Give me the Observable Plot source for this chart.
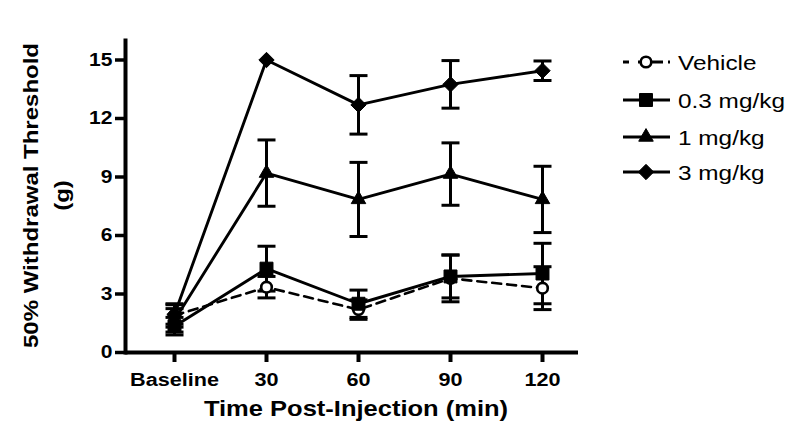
<!DOCTYPE html>
<html><head><meta charset="utf-8">
<script src="https://cdn.jsdelivr.net/npm/d3@7"></script>
<script src="https://cdn.jsdelivr.net/npm/@observablehq/plot@0.6"></script>
<style>
body{margin:0;background:#fff;}
#wrap{position:relative;width:800px;height:441px;font-family:"Liberation Sans",Arial,Helvetica,sans-serif;color:#000;}
#wrap svg{font-family:"Liberation Sans",Arial,Helvetica,sans-serif;}
#legend{position:absolute;left:0;top:0;pointer-events:none;}
</style></head><body><div id="wrap"></div>
<script>
const categories = ["Baseline", "30", "60", "90", "120"];
const seriesNames = ["Vehicle", "0.3 mg/kg", "1 mg/kg", "3 mg/kg"];
const vehicleMean = [1.9, 3.35, 2.2, 3.8, 3.3];
const vehicleSem  = [0.6, 0.55, 0.5, 1.2, 1.1];
const dose03Mean  = [1.35, 4.3, 2.5, 3.9, 4.05];
const dose03Sem   = [0.45, 1.15, 0.7, 1.1, 1.55];
const dose1Mean   = [1.65, 9.2, 7.85, 9.15, 7.85];
const dose1Sem    = [0.6, 1.7, 1.9, 1.6, 1.7];
const dose3Mean   = [1.95, 15.0, 12.7, 13.75, 14.45];
const dose3Sem    = [0.5, 0.0, 1.5, 1.22, 0.5];
const yTicks = [0, 3, 6, 9, 12, 15];
const xTitle = "Time Post-Injection (min)";
const yTitle = "50% Withdrawal Threshold\n(g)";

const means = [vehicleMean, dose03Mean, dose1Mean, dose3Mean];
const sems = [vehicleSem, dose03Sem, dose1Sem, dose3Sem];
const rows = [];
seriesNames.forEach((s, si) => categories.forEach((c, i) =>
  rows.push({series: s, time: c, mean: means[si][i], sem: sems[si][i]})));
const errRows = rows.filter(d => d.sem > 0);

const capSymbol = {draw(ctx, size) { const w = Math.sqrt(size / Math.PI); ctx.moveTo(-w, 0); ctx.lineTo(w, 0); }};
const symbolFor = {"Vehicle": d3.symbolCircle, "0.3 mg/kg": d3.symbolSquare, "1 mg/kg": d3.symbolTriangle, "3 mg/kg": d3.symbolDiamond2};
const rFor = {"Vehicle": 5.3, "0.3 mg/kg": 7.3, "1 mg/kg": 5.4, "3 mg/kg": 6.9};

const bySeries = s => rows.filter(d => d.series === s);

const svg = Plot.plot({
  width: 800, height: 441,
  marginLeft: 125, marginRight: 222, marginTop: 40, marginBottom: 89,
  style: {background: "#fff", color: "#000", overflow: "visible"},
  x: {type: "point", domain: categories, padding: 0.4355, align: 0.58},
  y: {domain: [0, 16]},
  marks: [
    Plot.axisY(yTicks, {tickSize: 10, tickPadding: 3, strokeWidth: 3.5, fontSize: 18, fontWeight: "bold", label: null}),
    Plot.axisX({tickSize: 10, tickPadding: 10, strokeWidth: 4, fontSize: 18.5, fontWeight: "bold", label: null}),
    Plot.frame({anchor: "left", strokeWidth: 4}),
    Plot.ruleY([0], {strokeWidth: 4}),
    Plot.ruleX(errRows, {x: "time", y1: d => d.mean - d.sem, y2: d => d.mean + d.sem, strokeWidth: 3}),
    Plot.dot(errRows, {x: "time", y: d => d.mean + d.sem, symbol: capSymbol, r: 9, stroke: "#000", strokeWidth: 3, fill: "none"}),
    Plot.dot(errRows, {x: "time", y: d => d.mean - d.sem, symbol: capSymbol, r: 9, stroke: "#000", strokeWidth: 3, fill: "none"}),
    Plot.line(bySeries("Vehicle"), {x: "time", y: "mean", stroke: "#000", strokeWidth: 2.6, strokeDasharray: "9,6"}),
    Plot.line(rows.filter(d => d.series !== "Vehicle"), {x: "time", y: "mean", z: "series", stroke: "#000", strokeWidth: 2.9}),
    Plot.dot(bySeries("Vehicle"), {x: "time", y: "mean", symbol: symbolFor["Vehicle"], r: rFor["Vehicle"], fill: "#fff", stroke: "#000", strokeWidth: 2.6}),
    ...["0.3 mg/kg", "1 mg/kg", "3 mg/kg"].map(s =>
      Plot.dot(bySeries(s), {x: "time", y: "mean", symbol: symbolFor[s], r: rFor[s], fill: "#000", stroke: "#000", strokeWidth: 1})),
    Plot.text([xTitle], {frameAnchor: "bottom", dx: 4, dy: 63, fontSize: 22, fontWeight: "bold", className: "xtitle"}),
    Plot.text([yTitle], {frameAnchor: "left", textAnchor: "middle", dx: -82, dy: -1, rotate: -90, lineHeight: 1.55, fontSize: 20, fontWeight: "bold", className: "ytitle"})
  ]
});

function stretch(t, sx) {
  const tr = t.getAttribute("transform") || "";
  t.setAttribute("transform", tr + ` scale(${sx},1)`);
}
svg.querySelectorAll('g[aria-label="x-axis tick label"] text, g[aria-label="y-axis tick label"] text').forEach(t => stretch(t, 1.17));
svg.querySelectorAll('.xtitle text').forEach(t => stretch(t, 1.16));
svg.querySelectorAll('.ytitle text').forEach(t => stretch(t, 1.2));

const wrap = document.getElementById("wrap");
wrap.appendChild(svg);

// Legend
const leg = d3.select(wrap).append("svg").attr("id", "legend").attr("width", 800).attr("height", 441);
const legRowsY = [62, 100, 137, 172];
seriesNames.forEach((s, i) => {
  const g = leg.append("g").attr("transform", `translate(0,${legRowsY[i]})`);
  g.append("line").attr("x1", 623).attr("x2", 670).attr("y1", 0).attr("y2", 0)
    .attr("stroke", "#000").attr("stroke-width", 2.8)
    .attr("stroke-dasharray", s === "Vehicle" ? "6,9,25,5,2,10" : null);
  const r = rFor[s];
  g.append("path").attr("transform", "translate(646,0)")
    .attr("d", d3.symbol(symbolFor[s], r * r * Math.PI)())
    .attr("fill", s === "Vehicle" ? "#fff" : "#000").attr("stroke", "#000")
    .attr("stroke-width", s === "Vehicle" ? 2.6 : 1);
  g.append("text").attr("x", 0).attr("y", 0).attr("dy", "0.36em")
    .attr("transform", "translate(678,0) scale(1.16,1)")
    .attr("font-size", 21).attr("font-family", '"Liberation Sans",Arial,sans-serif')
    .text(s);
});
</script></body></html>
